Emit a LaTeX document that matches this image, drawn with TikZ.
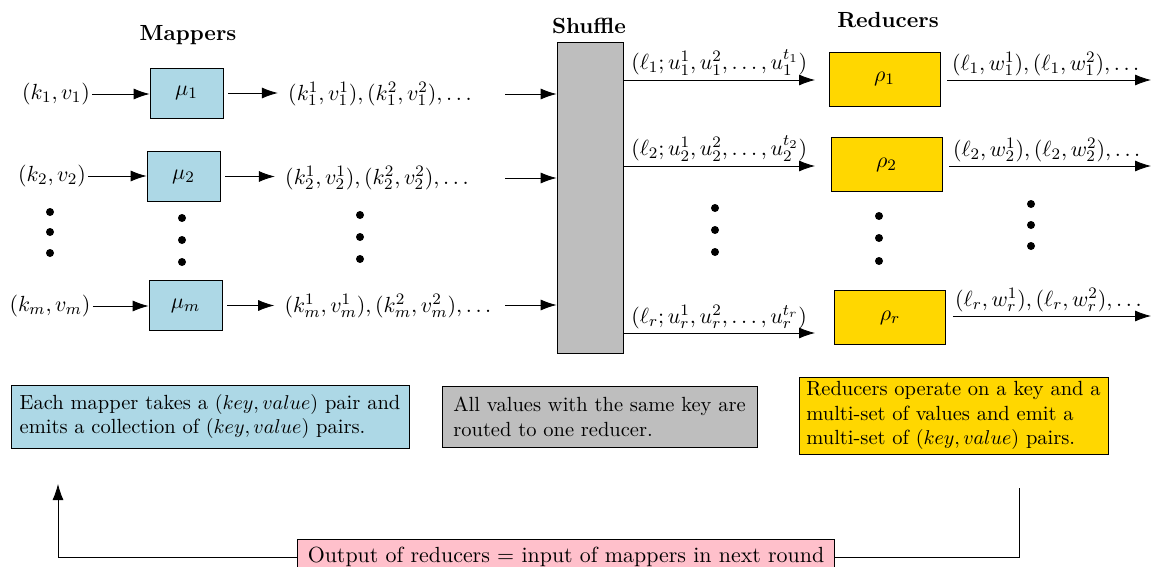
\documentclass[tikz,border=0pt,11pt]{standalone}
\usetikzlibrary{arrows.meta}
\definecolor{mapblue}{HTML}{ADD8E6}
\definecolor{redgold}{HTML}{FFD700}
\definecolor{shgray}{HTML}{BEBEBE}
\definecolor{loopink}{HTML}{FFC0CB}
\begin{document}
\begin{tikzpicture}[x=0.5pt,y=-0.5pt,
  arr/.style={-{Latex[length=8pt,width=5.5pt]}},
  mapbox/.style={draw, fill=mapblue, minimum width=36.5pt, minimum height=25pt, inner sep=0pt},
  redbox/.style={draw, fill=redgold, minimum width=55.5pt, minimum height=27pt, inner sep=0pt},
  lbl/.style={inner sep=1pt},
  outl/.style={inner sep=5pt},
  head/.style={font=\bfseries},
  elbl/.style={above, inner sep=2pt},
  note/.style={draw, align=left, inner sep=2pt, font=\fontsize{10.25pt}{12.4pt}\selectfont}
]
\useasboundingbox (0,0) rectangle (1151,567);

% headings
\node[head] (hmap) at (188,35) {Mappers};
\node[head] (hshuf) at (589,26) {Shuffle};
\node[head] (hred) at (888,20) {Reducers};

% mappers
\node[mapbox] (mu1) at (186.5,93) {$\mu_1$};
\node[mapbox] (mu2) at (183.5,176.5) {$\mu_2$};
\node[mapbox] (mum) at (185.5,305.5) {$\mu_m$};

\node[lbl] (in1) at (56,94) {$(k_1,v_1)$};
\node[lbl] (in2) at (52,176) {$(k_2,v_2)$};
\node[lbl] (inm) at (50,306) {$(k_m,v_m)$};

\node[outl] (out1) at (380,94) {$(k_1^1,v_1^1),(k_1^2,v_1^2),\ldots$};
\node[outl] (out2) at (377,178) {$(k_2^1,v_2^1),(k_2^2,v_2^2),\ldots$};
\node[outl] (outm) at (388,306) {$(k_m^1,v_m^1),(k_m^2,v_m^2),\ldots$};

\draw[arr] (in1.east) -- (in1.east -| mu1.west);
\draw[arr] (in2.east) -- (in2.east -| mu2.west);
\draw[arr] (inm.east) -- (inm.east -| mum.west);

\draw[arr, shorten <=2.5pt] (mu1.east) -- (mu1.east -| out1.west);
\draw[arr, shorten <=2.5pt] (mu2.east) -- (mu2.east -| out2.west);
\draw[arr, shorten <=2.5pt] (mum.east) -- (mum.east -| outm.west);

% shuffle
\node[draw, fill=shgray, minimum width=33pt, minimum height=155.5pt, inner sep=0pt] (shuf) at (590,197.5) {};
\coordinate (s1) at (505,94);
\coordinate (s2) at (505,178);
\coordinate (sm) at (505,305);
\draw[arr] (s1) -- (s1 -| shuf.west);
\draw[arr] (s2) -- (s2 -| shuf.west);
\draw[arr] (sm) -- (sm -| shuf.west);

% reducers
\node[redbox] (rho1) at (884.5,79) {$\rho_1$};
\node[redbox] (rho2) at (886.5,164.5) {$\rho_2$};
\node[redbox] (rhor) at (890,317.5) {$\rho_r$};

\coordinate (t1) at (815,80);
\coordinate (t2) at (815,166);
\coordinate (tr) at (815,333);
\draw[arr] (shuf.east |- t1) -- node[elbl] {$(\ell_1;u_1^1,u_1^2,\ldots,u_1^{t_1})$} (t1);
\draw[arr] (shuf.east |- t2) -- node[elbl] {$(\ell_2;u_2^1,u_2^2,\ldots,u_2^{t_2})$} (t2);
\draw[arr] (shuf.east |- tr) -- node[elbl] {$(\ell_r;u_r^1,u_r^2,\ldots,u_r^{t_r})$} (tr);

\coordinate (o1) at (1151,80);
\coordinate (o2) at (1151,166);
\coordinate (or) at (1151,316);
\draw[arr, shorten <=3.5pt] (rho1.east |- o1) -- node[elbl] {$(\ell_1,w_1^1),(\ell_1,w_1^2),\ldots$} (o1);
\draw[arr, shorten <=3.5pt] (rho2.east |- o2) -- node[elbl] {$(\ell_2,w_2^1),(\ell_2,w_2^2),\ldots$} (o2);
\draw[arr, shorten <=3.5pt] (rhor.east |- or) -- node[elbl] {$(\ell_r,w_r^1),(\ell_r,w_r^2),\ldots$} (or);

% dots
\foreach \x/\y in {50/212, 50/232, 50/253, 182/218, 182/240, 182/262,
  360/215, 360/237, 360/259, 715/208, 715/230, 715/252,
  879/216, 879/238, 879/261, 1031/204, 1031/225, 1031/246}
  \fill (\x,\y) circle (2pt);

% notes
\node[note, fill=mapblue, minimum width=199pt, minimum height=31.5pt] (nmap) at (210,416.5)
  {Each mapper takes a $(key,value)$ pair and\\emits a collection of $(key,value)$ pairs.};
\node[note, fill=shgray, minimum width=157.5pt, minimum height=30.5pt] (nshuf) at (599.5,416.5)
  {All values with the same key are\\routed to one reducer.};
\node[note, fill=redgold, minimum width=154.5pt, minimum height=38.5pt] (nred) at (953.5,415.5)
  {Reducers operate on a key and a\\multi-set of values and emit a\\multi-set of $(key,value)$ pairs.};

% feedback loop
\node[draw, fill=loopink, inner xsep=5pt, minimum height=17pt] (loop) at (566,557)
  {Output of reducers = input of mappers in next round};
\coordinate (fr) at (1019,488);
\coordinate (fl) at (58,484);
\draw (loop.east) -| (fr);
\draw[arr] (loop.west) -| (fl);
\end{tikzpicture}
\end{document}
